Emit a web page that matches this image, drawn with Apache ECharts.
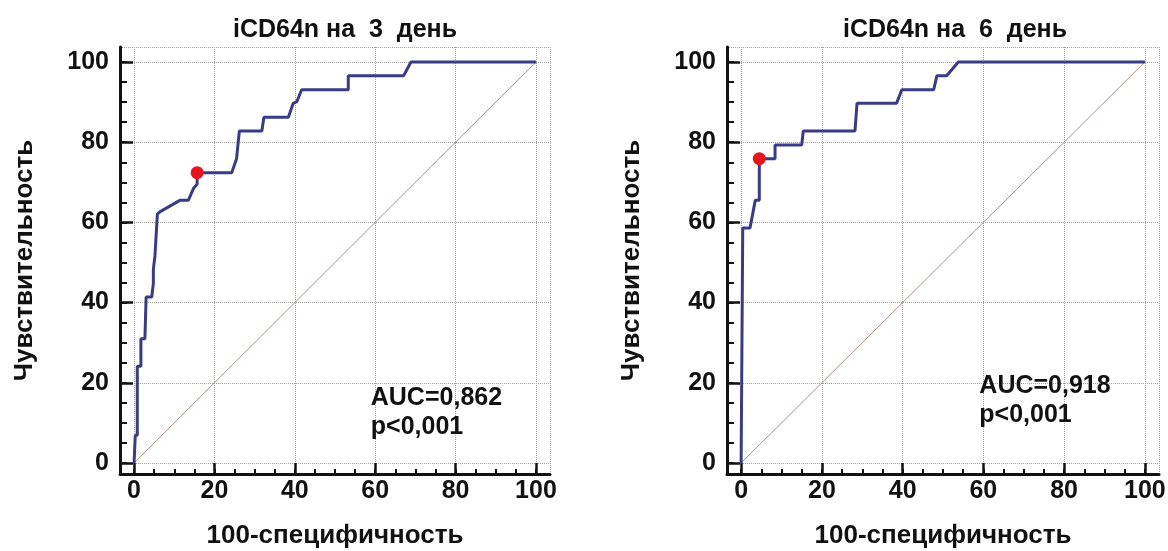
<!DOCTYPE html>
<html>
<head>
<meta charset="utf-8">
<script src="https://cdn.jsdelivr.net/npm/echarts@6/dist/echarts.min.js"></script>
<style>
  html, body { margin: 0; padding: 0; background: #ffffff; }
  #chart { width: 1168px; height: 551px; }
</style>
</head>
<body>
<div id="chart"></div>
<script>
// Axis ticks (percent)
const majorTicks = [0, 20, 40, 60, 80, 100];
const MAJOR_STEP = 20;
const MINOR_STEP = 5;

// Panel titles and statistics
const panelTitles = ['iCD64n на  3  день', 'iCD64n на  6  день'];
const aucValues = ['0,862', '0,918'];
const pValues = ['<0,001', '<0,001'];

// ROC curve, day 3: [100 - specificity, sensitivity]
const rocDay3 = [
  [0, 0], [0.3, 0], [0.3, 6.9], [0.8, 6.9], [0.8, 24.1], [1.7, 24.1], [1.7, 31.0],
  [2.7, 31.0], [3.0, 41.4], [4.4, 41.4], [4.8, 44.8], [4.8, 48.3], [5.2, 51.7],
  [5.8, 62.1], [6.5, 62.7], [11.4, 65.5], [13.5, 65.5], [14.8, 68.5], [15.7, 69.5],
  [15.7, 72.4], [24.3, 72.4], [25.5, 75.9], [26.2, 82.8], [31.8, 82.8], [32.3, 86.2],
  [38.4, 86.2], [39.6, 89.7], [40.5, 90.1], [41.7, 93.1], [53.3, 93.1], [53.3, 96.6],
  [67.1, 96.6], [68.9, 100], [100, 100]
];

// ROC curve, day 6
const rocDay6 = [
  [0, 0], [0.4, 0], [0.4, 58.6], [2.2, 58.6], [3.5, 65.5], [4.5, 65.5], [4.5, 75.9],
  [8.4, 75.9], [8.4, 79.3], [15.0, 79.3], [15.4, 82.8], [28.2, 82.8], [28.7, 89.7],
  [38.5, 89.7], [39.8, 93.1], [47.7, 93.1], [48.5, 96.6], [50.9, 96.6], [53.8, 100],
  [100, 100]
];

// Optimal cut-off points
const cutoffDay3 = [15.7, 72.4];
const cutoffDay6 = [4.5, 75.9];

// Chance line
const chanceLine = [[0, 0], [100, 100]];

// ---- layout & styles ----
const FONT = 'Liberation Sans, Arial, Helvetica, sans-serif';
const INK = '#111111';
const CURVE = '#3a3a86';
const panels = [
  { grid: { left: 120, top: 47, width: 430, height: 427 }, titleX: 345, statAt: [58.9, 19.8], roc: rocDay3, cut: cutoffDay3 },
  { grid: { left: 727, top: 47, width: 432, height: 427 }, titleX: 955, statAt: [59.0, 22.7], roc: rocDay6, cut: cutoffDay6 }
];
const X_RANGE = [-3.5, 103.5];
const Y_RANGE = [-2.75, 103.75];
const TICK_LEN = { xMajor: 11, xMinor: 5, yMajor: 13, yMinor: 7 };

const grids = [], xAxes = [], yAxes = [], series = [], graphics = [];

function hiddenAxis(g) {
  return { type: 'value', gridIndex: g, show: false, min: 0, max: 1, axisLine: { onZero: false } };
}
// Axis that only draws inward tick marks over the 0..100 span
function tickAxis(g, step, len, width) {
  return {
    type: 'value', gridIndex: g, min: 0, max: 100, interval: step,
    axisLine: { show: false, onZero: false },
    axisTick: { show: true, inside: true, length: len, lineStyle: { color: INK, width: width } },
    axisLabel: { show: false },
    splitLine: { show: false }
  };
}
// Tick strips: a thin grid whose top edge (x) or right edge (y) sits where the ticks begin,
// so its second axis (placed top / right) draws ticks ending on the main axis line.
function addTickStrips(p) {
  const g = p.grid;
  const xSpan = X_RANGE[1] - X_RANGE[0];
  const ySpan = Y_RANGE[1] - Y_RANGE[0];
  const x0 = g.left + (0 - X_RANGE[0]) / xSpan * g.width;
  const x100 = g.left + (100 - X_RANGE[0]) / xSpan * g.width;
  const y100 = g.top + (Y_RANGE[1] - 100) / ySpan * g.height;
  const y0 = g.top + (Y_RANGE[1] - 0) / ySpan * g.height;
  const bottom = g.top + g.height;

  [[MAJOR_STEP, TICK_LEN.xMajor, 2.5], [MINOR_STEP, TICK_LEN.xMinor, 2]].forEach(function (t) {
    const gi = grids.length;
    grids.push({ left: x0, width: x100 - x0, top: bottom - t[1], height: t[1], containLabel: false, outerBoundsMode: 'none' });
    xAxes.push(hiddenAxis(gi), tickAxis(gi, t[0], t[1], t[2]));
    yAxes.push(hiddenAxis(gi));
  });
  [[MAJOR_STEP, TICK_LEN.yMajor, 2.5], [MINOR_STEP, TICK_LEN.yMinor, 2]].forEach(function (t) {
    const gi = grids.length;
    grids.push({ left: g.left, width: t[1], top: y100, height: y0 - y100, containLabel: false, outerBoundsMode: 'none' });
    yAxes.push(hiddenAxis(gi), tickAxis(gi, t[0], t[1], t[2]));
    xAxes.push(hiddenAxis(gi));
  });
}

function xAxisFor(g) {
  return {
    type: 'value', gridIndex: g, position: 'bottom', min: X_RANGE[0], max: X_RANGE[1],
    axisLine: { show: true, onZero: false, lineStyle: { color: INK, width: 3 } },
    axisTick: { show: false },
    axisLabel: { show: true, customValues: majorTicks, margin: 5, color: INK, fontFamily: FONT, fontWeight: 'bold', fontSize: 25 },
    splitLine: { show: true, lineStyle: { type: 'dotted', color: '#a0a0a0', width: 1 } },
    name: '100-специфичность', nameLocation: 'middle', nameGap: 49,
    nameTextStyle: { color: INK, fontFamily: FONT, fontWeight: 'bold', fontSize: 26, verticalAlign: 'top' }
  };
}
function yAxisFor(g) {
  return {
    type: 'value', gridIndex: g, position: 'left', min: Y_RANGE[0], max: Y_RANGE[1],
    axisLine: { show: true, onZero: false, lineStyle: { color: INK, width: 3 } },
    axisTick: { show: false },
    axisLabel: { show: true, customValues: majorTicks, margin: 11, color: INK, fontFamily: FONT, fontWeight: 'bold', fontSize: 25 },
    splitLine: { show: true, lineStyle: { type: 'dotted', color: '#a0a0a0', width: 1 } },
    name: 'Чувствительность', nameLocation: 'middle', nameGap: 82,
    nameTextStyle: { color: INK, fontFamily: FONT, fontWeight: 'bold', fontSize: 26 }
  };
}

// Main plot grids first (grid i, xAxis i, yAxis i)
panels.forEach(function (p, i) {
  grids.push(Object.assign({ containLabel: false, outerBoundsMode: 'none' }, p.grid));
  xAxes.push(xAxisFor(i));
  yAxes.push(yAxisFor(i));
});

panels.forEach(function (p, i) {
  const ax = { xAxisIndex: i, yAxisIndex: i };
  series.push(Object.assign({
    type: 'line', data: chanceLine, symbol: 'none', silent: true, z: 2,
    lineStyle: { color: '#a89088', width: 1 }
  }, ax));
  series.push(Object.assign({
    type: 'line', data: p.roc, symbol: 'none', silent: true, z: 3,
    lineStyle: { color: CURVE, width: 3 }
  }, ax));
  series.push(Object.assign({
    type: 'scatter', data: [p.cut], symbol: 'circle', symbolSize: 13, silent: true, z: 5,
    itemStyle: { color: '#e8141c', opacity: 1 }
  }, ax));
  series.push(Object.assign({
    type: 'scatter', data: [p.statAt], symbolSize: 0, silent: true, z: 6,
    itemStyle: { opacity: 1 },
    label: {
      show: true, position: [0, 0], align: 'left', verticalAlign: 'top', opacity: 1,
      formatter: 'AUC=' + aucValues[i] + '\np' + pValues[i],
      color: INK, fontFamily: FONT, fontWeight: 'bold', fontSize: 25, lineHeight: 29
    }
  }, ax));
  graphics.push({
    type: 'text', x: p.titleX, y: 30, silent: true,
    style: { text: panelTitles[i], align: 'center', verticalAlign: 'middle', fill: INK, font: 'bold 25px ' + FONT }
  });
});

// Tick strips after the main grids
panels.forEach(addTickStrips);

const chart = echarts.init(document.getElementById('chart'), null, { renderer: 'canvas' });
chart.setOption({
  backgroundColor: '#ffffff',
  animation: false,
  textStyle: { fontFamily: FONT },
  grid: grids,
  xAxis: xAxes,
  yAxis: yAxes,
  series: series,
  graphic: graphics
});
</script>
</body>
</html>
